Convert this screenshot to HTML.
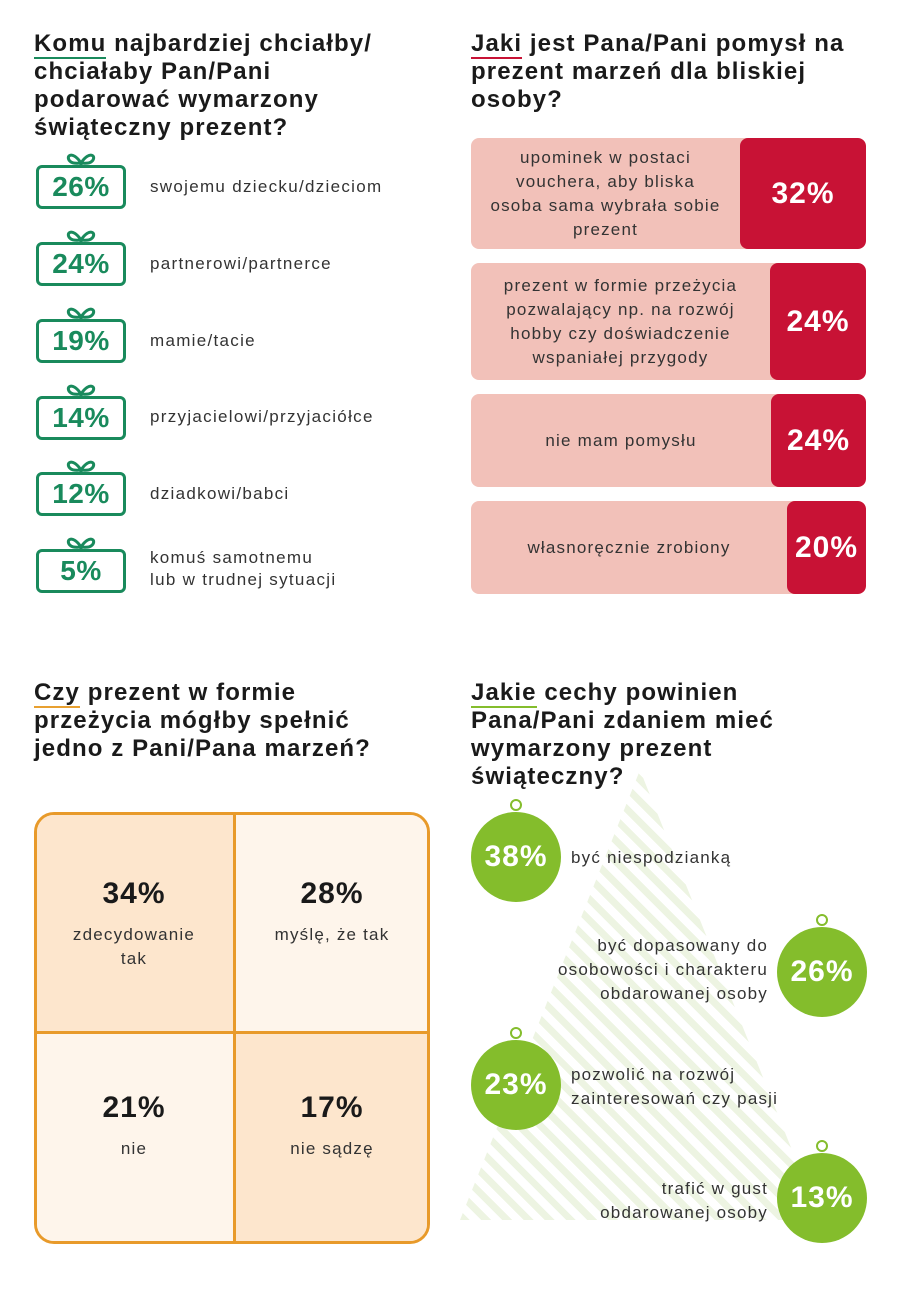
<!DOCTYPE html>
<html><head><meta charset="utf-8"><style>
body{margin:0;width:910px;height:1300px;background:#fff;position:relative;font-family:"Liberation Sans",sans-serif;color:#222;overflow:hidden}
.a{position:absolute}
h2{position:absolute;margin:0;font-size:24px;letter-spacing:1.1px;line-height:28px;font-weight:bold;color:#1a1a1a}
h2 u{text-decoration:none;border-bottom:2px solid}
.gift{position:absolute;left:36px;width:84px;height:38px;border:3px solid #198a5c;border-radius:6px;color:#198a5c;font-weight:bold;font-size:28px;letter-spacing:0.5px;text-align:center;line-height:38px}
.bow{position:absolute;left:27px;top:-20px;width:30px;height:17px}
.gl{position:absolute;left:150px;font-size:17px;letter-spacing:1.3px;color:#333;line-height:22px}
.bar{position:absolute;left:471px;width:395px;background:#f2c1b9;border-radius:8px;overflow:hidden}
.bar .t{position:absolute;left:0;top:0;bottom:0;display:flex;align-items:center;justify-content:center;text-align:center;font-size:17px;letter-spacing:1.2px;line-height:24px;color:#333}
.bar .r{position:absolute;right:0;top:0;bottom:0;background:#c81235;border-radius:8px;color:#fff;font-weight:bold;font-size:30px;letter-spacing:1px;display:flex;align-items:center;justify-content:center}
.cell{position:absolute;text-align:center;font-size:17px;letter-spacing:1.2px;color:#333;line-height:24px}
.cell b{display:block;font-size:30px;letter-spacing:1px;color:#1a1a1a;margin-bottom:12px;line-height:34px}
.ball{position:absolute;width:90px;height:90px;border-radius:50%;background:#84bd2c;color:#fff;font-weight:bold;font-size:30px;letter-spacing:1px;text-align:center;line-height:90px}
.ball:before{content:"";position:absolute;left:39px;top:-13px;width:8px;height:8px;border:2px solid #84bd2c;border-radius:50%}
.bt{position:absolute;font-size:17px;letter-spacing:1.2px;line-height:24px;color:#333}
</style></head><body>
<h2 style="left:34px;top:30px;width:420px">
<u style="border-color:#198a5c">Komu</u> najbardziej chciałby/<br>chciałaby Pan/Pani<br>podarować wymarzony<br>świąteczny prezent?</h2>
<h2 style="left:471px;top:30px;width:430px"><u style="border-color:#c81235">Jaki</u> jest Pana/Pani pomysł na<br>prezent marzeń dla bliskiej<br>osoby?</h2>

<svg width="0" height="0" style="position:absolute"><defs><g id="bw"><path d="M15 15 C6 1 -2 9 5 14 C8 16 12 15 15 15 C18 15 22 16 25 14 C32 9 24 1 15 15Z M15 15 L15 17" fill="none" stroke="#198a5c" stroke-width="3"/></g></defs></svg>

<div class="gift" style="top:165px"><svg class="bow" viewBox="0 0 30 17"><use href="#bw"/></svg>26%</div>
<div class="gl" style="top:176px">swojemu dziecku/dzieciom</div>
<div class="gift" style="top:242px"><svg class="bow" viewBox="0 0 30 17"><use href="#bw"/></svg>24%</div>
<div class="gl" style="top:253px">partnerowi/partnerce</div>
<div class="gift" style="top:319px"><svg class="bow" viewBox="0 0 30 17"><use href="#bw"/></svg>19%</div>
<div class="gl" style="top:330px">mamie/tacie</div>
<div class="gift" style="top:396px"><svg class="bow" viewBox="0 0 30 17"><use href="#bw"/></svg>14%</div>
<div class="gl" style="top:406px">przyjacielowi/przyjaciółce</div>
<div class="gift" style="top:472px"><svg class="bow" viewBox="0 0 30 17"><use href="#bw"/></svg>12%</div>
<div class="gl" style="top:483px">dziadkowi/babci</div>
<div class="gift" style="top:549px"><svg class="bow" viewBox="0 0 30 17"><use href="#bw"/></svg>5%</div>
<div class="gl" style="top:547px">komuś samotnemu<br>lub w trudnej sytuacji</div>

<div class="bar" style="top:138px;height:111px"><div class="t" style="width:269px">upominek w postaci<br>vouchera, aby bliska<br>osoba sama wybrała sobie<br>prezent</div><div class="r" style="width:126px">32%</div></div>
<div class="bar" style="top:263px;height:117px"><div class="t" style="width:299px">prezent w formie przeżycia<br>pozwalający np. na rozwój<br>hobby czy doświadczenie<br>wspaniałej przygody</div><div class="r" style="width:96px">24%</div></div>
<div class="bar" style="top:394px;height:93px"><div class="t" style="width:300px">nie mam pomysłu</div><div class="r" style="width:95px">24%</div></div>
<div class="bar" style="top:501px;height:93px"><div class="t" style="width:316px">własnoręcznie zrobiony</div><div class="r" style="width:79px">20%</div></div>

<h2 style="left:34px;top:679px;width:430px"><u style="border-color:#e8a030">Czy</u> prezent w formie<br>przeżycia mógłby spełnić<br>jedno z Pani/Pana marzeń?</h2>
<h2 style="left:471px;top:679px;width:430px"><u style="border-color:#84bd2c">Jakie</u> cechy powinien<br>Pana/Pani zdaniem mieć<br>wymarzony prezent<br>świąteczny?</h2>

<div class="a" style="left:34px;top:812px;width:390px;height:426px;border:3px solid #e89a2a;border-radius:20px;overflow:hidden">
<div class="a" style="left:0;top:0;width:196px;height:216px;background:#fde6cd"></div>
<div class="a" style="left:199px;top:0;width:200px;height:216px;background:#fef5eb"></div>
<div class="a" style="left:0;top:219px;width:196px;height:210px;background:#fef5eb"></div>
<div class="a" style="left:199px;top:219px;width:200px;height:210px;background:#fde6cd"></div>
<div class="a" style="left:196px;top:0;width:3px;height:430px;background:#e89a2a"></div>
<div class="a" style="left:0;top:216px;width:400px;height:3px;background:#e89a2a"></div>
</div>
<div class="cell" style="left:34px;top:877px;width:200px"><b>34%</b>zdecydowanie<br>tak</div>
<div class="cell" style="left:232px;top:877px;width:200px"><b>28%</b>myślę, że tak</div>
<div class="cell" style="left:34px;top:1091px;width:200px"><b>21%</b>nie</div>
<div class="cell" style="left:232px;top:1091px;width:200px"><b>17%</b>nie sądzę</div>

<div class="a" style="left:460px;top:770px;width:360px;height:450px;clip-path:polygon(50% 0,100% 100%,0 100%);background:repeating-linear-gradient(45deg,#edf4e2 0 7px,#fff 7px 15px)"></div>

<div class="ball" style="left:471px;top:812px">38%</div>
<div class="bt" style="left:571px;top:846px">być niespodzianką</div>
<div class="ball" style="left:777px;top:927px">26%</div>
<div class="bt" style="left:460px;top:934px;width:308px;text-align:right">być dopasowany do<br>osobowości i charakteru<br>obdarowanej osoby</div>
<div class="ball" style="left:471px;top:1040px">23%</div>
<div class="bt" style="left:571px;top:1063px">pozwolić na rozwój<br>zainteresowań czy pasji</div>
<div class="ball" style="left:777px;top:1153px">13%</div>
<div class="bt" style="left:460px;top:1177px;width:308px;text-align:right">trafić w gust<br>obdarowanej osoby</div>
</body></html>
